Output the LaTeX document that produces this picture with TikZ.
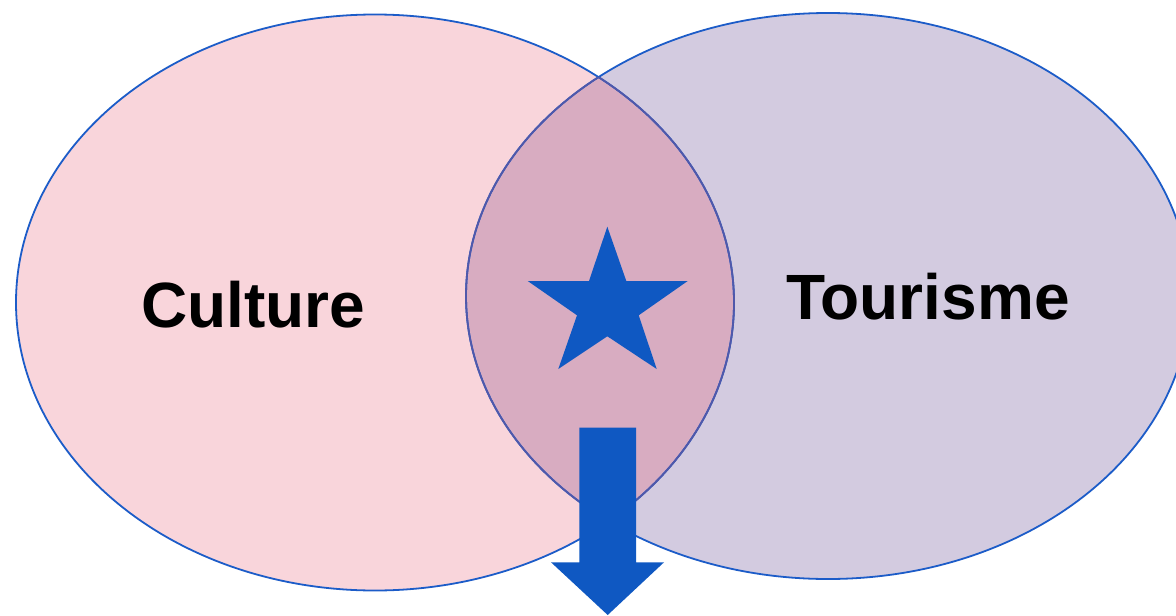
\documentclass[tikz,border=0pt]{standalone}
\usepackage{fontspec}
\setmainfont{Liberation Sans}
\usetikzlibrary{positioning}
\definecolor{cpink} {RGB}{249,213,219}
\definecolor{clav}  {RGB}{211,203,224}
\definecolor{cmix}  {RGB}{216,172,193}
\definecolor{cblue} {RGB}{15,88,194}
\definecolor{cedge} {RGB}{28,92,200}
\definecolor{cdim}  {RGB}{80,88,170}

\begin{document}
\begin{tikzpicture}[x=0.5pt, y=-0.5pt,
    setedge/.style={draw=cedge, line width=0.9pt},
    setlabel/.style={font=\fontsize{32}{38}\selectfont\bfseries,
                     anchor=base, inner sep=0pt}]
  \useasboundingbox (0,0) rectangle (1176,615);
  % the two sets
  \fill[cpink] (375,302.5) ellipse [x radius=359, y radius=288];
  \fill[clav]  (828,296)   ellipse [x radius=362, y radius=283];
  \begin{scope}
    \clip (375,302.5) ellipse [x radius=359, y radius=288];
    \fill[cmix] (828,296) ellipse [x radius=362, y radius=283];
  \end{scope}
  \draw[setedge] (375,302.5) ellipse [x radius=359, y radius=288];
  \draw[setedge] (828,296)   ellipse [x radius=362, y radius=283];
  % inner arcs look dimmer
  \begin{scope}
    \clip (828,296) ellipse [x radius=362, y radius=283];
    \draw[setedge, draw=cdim] (375,302.5) ellipse [x radius=359, y radius=288];
  \end{scope}
  \begin{scope}
    \clip (375,302.5) ellipse [x radius=359, y radius=288];
    \draw[setedge, draw=cdim] (828,296) ellipse [x radius=362, y radius=283];
  \end{scope}
  \node[setlabel] (culture)  at (253,327.5) {Culture};
  \node[setlabel] (tourisme) at (928,319.7) {Tourisme};
  % star in the overlap
  \fill[cblue] (607.3,226.7) -- (626.3,281) -- (687.7,281) -- (638.7,315.3)
    -- (656.7,369) -- (607.3,336.3) -- (558.3,369) -- (577,315.3)
    -- (527.7,281) -- (589,281) -- cycle;
  % block arrow
  \fill[cblue] (579.3,427.7) -- (636,427.7) -- (636,562.3) -- (664,562.3)
    -- (607.7,615) -- (551,562.3) -- (579.3,562.3) -- cycle;
\end{tikzpicture}
\end{document}
